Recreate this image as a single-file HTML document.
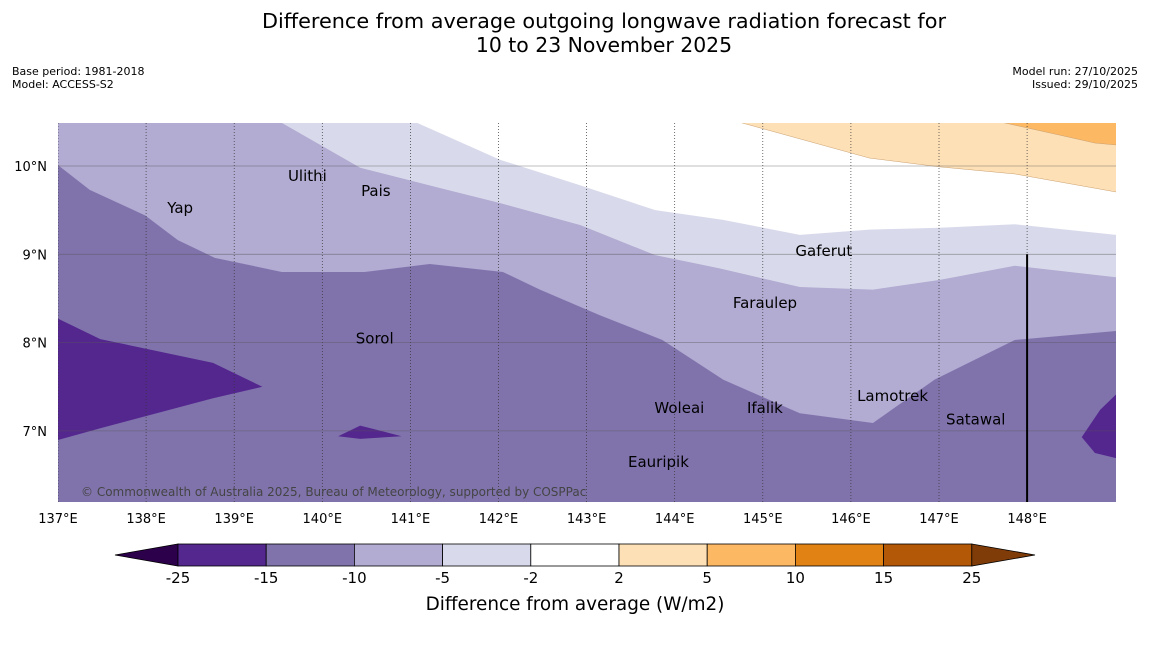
<!DOCTYPE html>
<html><head><meta charset="utf-8">
<style>
body{margin:0;background:#fff;font-family:"Liberation Sans",sans-serif;}
svg text{font-family:"DejaVu Sans","Liberation Sans",sans-serif;}
</style></head>
<body>
<svg id="chart" width="1150" height="644" viewBox="0 0 1150 644" xmlns="http://www.w3.org/2000/svg">
<rect width="1150" height="644" fill="#fff"/>
<text x="604" y="28" font-size="20.4" text-anchor="middle" textLength="684" lengthAdjust="spacingAndGlyphs">Difference from average outgoing longwave radiation forecast for</text>
<text x="604" y="52" font-size="20.4" text-anchor="middle">10 to 23 November 2025</text>
<text x="12" y="75" font-size="11">Base period: 1981-2018</text>
<text x="12" y="88" font-size="11">Model: ACCESS-S2</text>
<text x="1138" y="75" font-size="11" text-anchor="end">Model run: 27/10/2025</text>
<text x="1138" y="88" font-size="11" text-anchor="end">Issued: 29/10/2025</text>
<defs><clipPath id="mapclip"><rect x="58" y="123" width="1058" height="379"/></clipPath></defs>
<g id="map" clip-path="url(#mapclip)"></g>
<g id="axes"></g>
<g id="cbar"></g>
</svg>
<script>
const levels = [-25,-15,-10,-5,-2,2,5,10,15,25];
const levelColors = ["#54278f","#8073ac","#b2abd2","#d8daeb","#ffffff","#fee0b6","#fdb863","#e08214","#b35806"];
const lonTicks = [137,138,139,140,141,142,143,144,145,146,147,148];
const latTicks = [7,8,9,10];
const baseColor = "#8073ac";
const contourNames = ["band-minus10-minus5","band-minus5-minus2","band-minus2-2","band-2-5","band-5-10","dark-left","dark-small","dark-right"];
const contourColors = ["#b2abd2","#d8daeb","#ffffff","#fee0b6","#fdb863","#54278f","#54278f","#54278f"];
const contour0 = [[137,10.5],[137,10.01],[137.36,9.73],[137.99,9.44],[138.36,9.16],[138.78,8.96],[139.54,8.8],[140.48,8.8],[141.22,8.89],[142.05,8.8],[142.47,8.6],[143.15,8.31],[143.86,8.03],[144.55,7.58],[145.42,7.2],[146.25,7.09],[146.95,7.58],[147.86,8.03],[149.1,8.14],[149.1,10.5]];
const contour1 = [[139.52,10.5],[140.43,9.98],[141.34,9.75],[142.02,9.58],[142.93,9.33],[143.78,8.99],[144.51,8.84],[145.42,8.63],[146.25,8.6],[147.01,8.71],[147.86,8.87],[149.1,8.73],[149.1,10.5]];
const contour2 = [[141.05,10.5],[142.02,10.07],[142.93,9.78],[143.78,9.5],[144.55,9.39],[145.42,9.22],[146.21,9.28],[147.01,9.3],[147.86,9.34],[149.1,9.21],[149.1,10.5]];
const contour3 = [[144.72,10.5],[146.21,10.09],[147.01,9.99],[147.86,9.91],[149.1,9.69],[149.1,10.5]];
const contour4 = [[147.69,10.5],[148.37,10.35],[148.77,10.26],[149.1,10.23],[149.1,10.5]];
const contour5 = [[136.9,8.32],[137.48,8.04],[138.76,7.77],[139.32,7.5],[138.76,7.37],[137.48,7.03],[136.9,6.87]];
const contour6 = [[140.18,6.94],[140.43,7.06],[140.9,6.94],[140.43,6.91]];
const contour7 = [[149.1,7.5],[148.83,7.24],[148.62,6.93],[148.77,6.75],[149.1,6.67]];
const contours = [contour0,contour1,contour2,contour3,contour4,contour5,contour6,contour7];
const placeNames = ["Ulithi","Pais","Yap","Gaferut","Faraulep","Sorol","Woleai","Ifalik","Lamotrek","Satawal","Eauripik"];
const placeLon = [139.61,140.44,138.24,145.37,144.66,140.38,143.77,144.82,146.07,147.08,143.47];
const placeLat = [9.83,9.66,9.47,8.98,8.39,7.99,7.20,7.20,7.34,7.07,6.59];

const NS="http://www.w3.org/2000/svg";
function xs(lon){return 58+(lon-137)*88.1;}
function ys(lat){return 166+(10-lat)*88.3;}
function mk(tag,attrs,parent){const e=document.createElementNS(NS,tag);for(const k in attrs)e.setAttribute(k,attrs[k]);parent.appendChild(e);return e;}
const map=document.getElementById('map');
const bg=mk('rect',{x:58,y:123,width:1058,height:379,fill:baseColor},map);


contours.forEach((c,i)=>{
  const p=mk('polygon',{points:c.map(q=>xs(q[0])+','+ys(q[1])).join(' '),fill:contourColors[i],stroke:i==3||i==4?"#c9a070":"none","stroke-width":0.5},map);
  
  
});
lonTicks.forEach(l=>{
  const ln=mk('line',{x1:xs(l),x2:xs(l),y1:123,y2:502,stroke:"#333","stroke-width":0.7,"stroke-dasharray":"1,2"},map);
  
  
});
latTicks.forEach(l=>{
  const ln=mk('line',{x1:58,x2:1116,y1:ys(l),y2:ys(l),stroke:"#555","stroke-opacity":0.5,"stroke-width":0.8},map);
  
  
});
const vl=mk('line',{x1:xs(148),x2:xs(148),y1:ys(9),y2:502,stroke:"#000","stroke-width":2},map);


placeNames.forEach((n,i)=>{
  const t=mk('text',{x:xs(placeLon[i]),y:ys(placeLat[i]),"font-size":15},map);
  t.textContent=n;
  
  
});
const cp=mk('text',{x:81,y:496,"font-size":12,fill:"#444"},map);
cp.textContent="© Commonwealth of Australia 2025, Bureau of Meteorology, supported by COSPPac";



const axes=document.getElementById('axes');
lonTicks.forEach(l=>{
  const t=mk('text',{x:xs(l),y:523,"font-size":13,"text-anchor":"middle"},axes);
  t.textContent=l+"°E";
  
  
});
latTicks.forEach(l=>{
  const t=mk('text',{x:47,y:ys(l)+5,"font-size":13,"text-anchor":"end"},axes);
  t.textContent=l+"°N";
  
  
});

const cb=document.getElementById('cbar');
const x0=178,w=88.2,y0=544,h=22;
const lt=mk('polygon',{points:`115,555 ${x0},${y0} ${x0},${y0+h}`,fill:"#2d004b",stroke:"#000","stroke-width":0.8},cb);


levelColors.forEach((c,i)=>{
  const r=mk('rect',{x:x0+i*w,y:y0,width:w,height:h,fill:c,stroke:"#000","stroke-width":0.8},cb);
  
  
});
const xe=x0+levelColors.length*w;
const rt=mk('polygon',{points:`${xe},${y0} 1035,555 ${xe},${y0+h}`,fill:"#7f3b08",stroke:"#000","stroke-width":0.8},cb);


levels.forEach((v,i)=>{
  const t=mk('text',{x:x0+i*w,y:583,"font-size":15,"text-anchor":"middle"},cb);
  t.textContent=v;
  
  
});
const ct=mk('text',{x:575,y:610,"font-size":18.4,"text-anchor":"middle"},cb);
ct.textContent="Difference from average (W/m2)";


</script>
</body></html>
